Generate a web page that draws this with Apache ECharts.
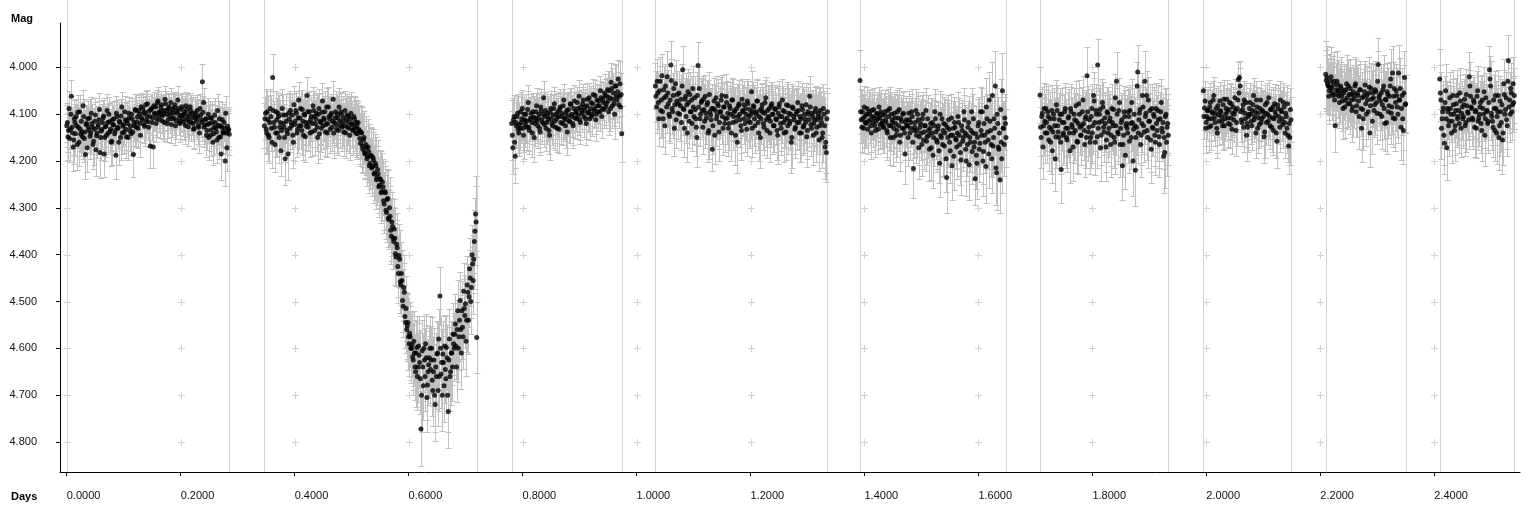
<!DOCTYPE html>
<html><head><meta charset="utf-8">
<script src="https://cdn.jsdelivr.net/npm/echarts@6/dist/echarts.min.js"></script>
<style>html,body{margin:0;padding:0;background:#fff}#c{width:1536px;height:512px}</style>
</head><body><div id="c"></div><script>
// ---- data ----
const xTicks = [0, 0.2, 0.4, 0.6, 0.8, 1.0, 1.2, 1.4, 1.6, 1.8, 2.0, 2.2, 2.4];
const yTicks = [4.0, 4.1, 4.2, 4.3, 4.4, 4.5, 4.6, 4.7, 4.8];
// observing runs (days): first and last time of each run
const segStart = [0, 0.3468, 0.7809, 1.0330, 1.3922, 1.7080, 1.9946, 2.2094, 2.4095];
const segEnd   = [0.2853, 0.7195, 0.9740, 1.3351, 1.6484, 1.9332, 2.1485, 2.3498, 2.5404];
// magnitudes in mmag relative to MAG_ZERO, errors in mmag
// "A" = samples on the run grid, "B" = samples falling between consecutive A samples
const MAG_ZERO = 4.0;
const seg1Mag = [125,148,88,132,62,140,155,118,105,165,128,95,143,138,82,152,186,120,110,135,
147,98,128,158,115,176,140,122,90,150,133,108,185,127,145,118,100,137,160,112,
123,142,188,105,130,115,150,85,126,138,112,148,120,98,135,142,110,186,125,92,
117,130,100,145,108,88,122,96,113,78,128,105,90,118,170,98,85,110,72,102,
95,80,115,100,68,92,120,88,104,75,110,98,86,125,94,70,108,116,90,103,
118,96,82,112,127,100,92,108,120,130,98,115,105,128,88,112,31,75,123,110,
135,100,120,145,108,160,128,118,138,92,150,125,185,112,140,130,98,172,135,143];
const seg1Err = [45,50,38,42,35,48,52,40,38,55,44,36,47,42,33,50,52,40,38,45,
48,35,42,50,40,55,46,40,35,48,42,38,50,44,46,40,36,44,50,38,
42,46,50,36,44,40,48,32,42,45,38,46,40,35,44,46,38,48,42,34,
40,42,36,46,38,32,40,35,38,30,42,36,33,40,45,35,32,38,30,36,
34,30,38,36,28,34,40,32,36,30,38,35,32,40,34,30,36,38,33,35,
38,34,30,36,40,35,33,36,38,42,34,38,35,40,32,36,38,30,40,36,
42,35,40,45,36,48,40,38,44,34,46,40,55,38,44,42,36,50,42,45];
const seg1MagB = [118,135,152,100,128,170,110,142,125,96,160,132,115,148,105,138,122,172,128,108,
140,120,165,132,102,146,128,112,182,136,118,104,150,126,92,140,116,132,158,122,
110,135,98,128,160,118,104,140,122,95,132,114,150,108,126,100,138,118,90,128,
106,92,120,84,112,98,126,80,104,116,94,168,88,108,82,100,120,76,96,112,
86,104,92,118,78,100,112,84,96,122,90,108,80,114,98,88,120,102,84,110,
100,124,90,106,116,84,118,98,132,104,110,92,124,140,102,118,96,128,112,145,
122,150,108,134,118,142,102,130,155,124,110,148,128,138,118,200,140,126,132];
const seg1ErrB = [42,46,50,38,44,52,40,48,44,36,50,46,40,48,38,46,42,52,44,40,
46,42,52,44,36,48,44,40,54,46,40,38,50,44,34,46,40,44,50,42,
38,44,36,42,48,40,36,46,42,34,44,38,48,36,42,35,44,40,32,42,
36,32,40,30,38,34,42,30,36,40,33,46,31,37,30,35,40,28,34,38,
30,36,32,40,28,34,38,30,33,40,32,36,28,38,34,30,40,35,30,37,
34,40,32,36,38,30,40,34,42,36,38,33,40,44,35,40,34,42,38,46,
40,48,36,44,40,46,36,42,50,42,38,48,42,46,40,54,46,42,44];
const seg2Mag = [125,98,140,112,150,88,130,22,118,165,95,140,105,128,178,88,120,150,102,135,
185,110,92,125,145,80,115,98,132,70,108,125,90,145,102,118,60,128,95,112,
138,82,105,120,98,150,88,115,130,72,108,95,122,140,85,110,102,128,68,118,
95,132,108,85,125,100,118,138,92,112,128,105,145,98,120,132,110,140,125,118,
135,162,140,175,150,185,172,190,180,205,188,212,198,225,210,235,228,252,240,265,
255,292,268,310,280,325,318,360,340,372,365,405,385,440,410,465,455,510,480,545,
560,545,590,575,600,618,585,640,610,660,595,630,772,605,680,625,590,705,650,620,
645,600,690,625,720,660,610,580,488,655,700,630,595,665,620,735,580,650,610,570,
600,548,640,520,575,498,610,555,478,530,585,465,540,430,500,400,455,372,313,577];
const seg2Err = [48,52,45,50,55,42,48,50,46,58,44,50,46,48,55,42,50,52,45,48,
55,46,42,50,52,40,46,44,50,38,46,50,42,52,45,48,40,50,44,46,
52,40,46,50,44,55,42,48,50,38,46,44,50,52,42,46,44,50,38,48,
44,50,46,40,48,45,50,52,42,46,50,44,52,45,48,50,46,52,48,46,
52,48,55,50,56,52,58,54,60,55,58,56,60,58,62,58,60,58,62,60,
60,62,58,64,60,62,64,60,62,58,65,62,60,64,62,66,64,65,62,66,
68,62,70,65,68,72,64,70,68,72,65,70,80,66,72,68,64,74,70,68,
72,66,75,68,78,70,66,64,62,72,76,68,66,74,70,78,64,72,68,66,
70,64,74,66,72,62,76,68,60,70,75,62,72,66,70,64,72,68,80,76];
const seg2MagB = [110,132,95,145,118,105,160,92,128,140,112,98,150,118,135,102,128,195,115,142,
98,130,118,102,160,122,92,140,108,125,88,135,115,100,148,126,95,118,140,105,
120,92,135,110,128,100,142,118,96,125,112,138,85,120,105,132,98,115,140,108,
122,100,135,115,95,128,108,125,140,102,118,130,110,122,135,105,128,118,142,132,
152,138,168,155,182,165,195,170,210,190,215,192,228,205,240,218,255,238,268,245,
285,265,305,282,322,300,348,330,365,345,398,378,425,402,458,440,498,470,532,515,
552,575,568,600,592,625,610,650,598,640,615,665,700,640,600,660,620,678,635,600,
625,668,650,700,640,612,690,660,600,630,612,680,645,598,700,625,660,610,640,590,
570,595,560,600,540,560,520,575,515,505,540,480,490,450,470,420,410,350,330];
const seg2ErrB = [46,50,44,55,48,46,56,42,50,52,46,44,54,48,50,44,50,56,46,52,
44,50,48,44,56,48,42,52,46,50,40,52,48,44,54,50,42,48,52,46,
50,42,52,46,50,44,54,48,42,50,46,52,40,48,44,52,42,46,54,44,
48,44,52,46,42,50,46,48,54,44,48,52,46,50,52,44,50,48,54,52,
54,56,55,58,56,60,58,60,58,62,60,60,62,62,62,62,64,62,64,62,
62,64,62,64,62,66,66,64,66,64,66,66,66,68,66,68,68,70,68,70,
70,72,68,74,70,74,70,76,68,74,70,76,78,72,68,74,70,76,72,68,
72,76,74,78,72,70,76,74,68,72,70,78,72,66,78,70,74,68,72,66,
66,70,64,72,66,68,64,70,62,62,68,60,64,60,66,62,64,72,76];
const seg3Mag = [120,172,105,190,125,98,140,130,118,88,145,112,100,128,75,135,108,118,95,150,
110,82,125,100,138,92,118,65,105,130,98,112,145,88,120,102,78,128,110,95,
132,85,105,120,70,112,98,138,90,115,80,105,125,72,98,110,88,62,118,92,
78,105,85,120,68,95,110,75,100,58,88,112,70,95,82,50,105,68,90,60,
78,48,95,65,32,82,55,100,40,70,25,62,85,142];
const seg3Err = [50,55,45,58,48,42,50,46,44,40,50,45,42,48,38,50,44,46,40,52,
45,38,48,42,50,40,46,36,44,48,40,45,52,38,46,42,36,48,44,40,
50,38,44,46,35,45,40,50,38,46,36,44,48,35,40,44,38,34,46,40,
36,44,38,46,34,40,45,36,42,32,40,46,35,42,38,32,45,36,40,34,
45,40,50,44,42,48,42,52,45,46,40,44,50,60];
const seg3MagB = [145,112,160,118,105,132,122,95,110,130,100,122,115,90,128,112,98,140,106,120,
95,115,108,130,85,112,100,122,92,118,105,135,96,110,125,88,115,100,130,105,
90,118,98,82,108,125,92,105,115,78,100,120,88,108,95,75,102,112,85,98,
70,92,110,82,98,65,88,105,78,92,60,100,82,72,95,65,88,75,55,85,
62,72,50,88,45,68,78,40,62,52,80,35,58];
const seg3ErrB = [52,46,55,48,44,50,48,42,46,50,42,48,46,40,50,46,42,52,44,48,
40,46,44,50,38,46,42,48,40,46,44,50,40,44,48,38,46,42,50,44,
38,46,40,36,44,48,38,42,46,34,40,46,36,42,40,34,42,44,36,40,
34,40,44,36,40,32,38,42,34,38,32,42,36,34,40,36,42,38,40,44,
40,44,42,48,44,42,48,46,44,42,50,48,46];
const seg4Mag = [40,85,55,110,30,70,95,48,125,62,20,78,105,-5,88,60,130,35,72,98,
55,82,118,5,90,68,105,140,75,58,95,120,85,65,110,150,-4,45,100,72,
128,90,62,108,75,135,95,112,175,88,145,65,102,82,118,95,60,130,85,110,
75,98,120,88,140,70,105,92,115,160,82,100,125,68,95,110,88,132,78,105,
118,52,95,85,125,100,72,140,92,110,80,120,98,65,135,105,88,115,78,100,
125,90,112,145,85,105,130,70,118,95,138,108,82,120,100,150,88,112,128,95,
75,118,105,140,90,125,110,80,135,100,62,122,98,145,112,88,128,105,155,92,
118,140,100,170,182,95];
const seg4Err = [50,55,48,58,52,46,54,50,60,48,55,50,56,52,54,48,60,50,46,55,
48,52,58,50,54,46,56,62,50,48,52,58,50,46,55,62,50,46,54,48,
58,52,46,55,48,60,50,54,46,50,62,46,52,48,56,50,44,58,50,54,
46,50,56,48,60,44,52,48,55,66,46,50,58,44,50,54,46,58,48,52,
55,44,50,48,58,52,44,60,50,54,46,56,50,44,58,52,48,55,46,50,
56,48,52,62,46,50,58,44,54,50,60,52,46,56,50,64,48,52,58,50,
46,56,50,62,48,58,52,46,60,50,44,56,50,64,54,48,58,52,66,50,
56,62,50,68,62,50];
const seg4MagB = [62,30,75,50,92,18,110,65,40,85,55,100,70,28,95,45,80,112,58,78,
100,68,40,88,130,62,80,52,115,95,70,45,105,90,128,60,85,110,75,92,
68,115,98,80,140,58,102,88,125,72,92,110,78,138,95,70,105,85,120,62,
108,130,82,100,70,118,95,145,88,105,78,112,135,92,80,120,100,72,115,90,
100,130,82,110,95,72,118,105,150,88,96,128,75,112,92,108,140,82,100,125,
88,110,135,98,78,120,105,92,140,112,80,125,98,115,160,85,105,132,100,118,
92,140,110,82,128,100,118,148,95,112,85,130,105,120,95,140,112,98,125,108,
150,88,125,160,110];
const seg4ErrB = [54,48,56,52,58,46,60,52,48,56,50,58,54,46,56,50,54,60,50,54,
58,52,48,56,62,50,54,48,58,56,52,48,58,54,62,50,56,58,52,56,
50,58,54,52,62,48,56,52,60,50,54,58,52,62,56,50,58,54,60,48,
56,60,50,56,48,58,54,64,52,56,50,58,62,54,50,60,56,48,58,52,
54,62,50,58,54,48,58,56,66,52,54,60,48,58,54,56,62,50,54,60,
50,56,62,54,48,58,56,52,62,58,48,60,54,58,66,50,56,62,54,58,
52,62,56,48,60,54,58,64,52,58,50,60,56,58,54,62,56,54,60,56,
64,52,60,66,56];
const seg5Mag = [28,112,95,130,105,120,88,115,100,125,92,118,108,135,98,110,85,122,102,115,
128,95,118,140,105,88,125,112,150,98,120,135,108,90,145,115,100,130,185,112,
125,98,140,118,105,216,128,92,135,112,148,120,165,100,138,125,158,110,145,130,
172,118,150,95,138,160,125,205,145,110,135,168,122,235,150,132,178,108,145,190,
128,155,140,118,165,198,135,150,112,175,145,128,208,160,95,140,170,238,188,150,
118,162,135,95,180,145,212,110,155,70,135,195,168,110,40,225,120,175,240,160,
50,130,108,150];
const seg5Err = [65,50,46,54,48,52,46,50,48,55,46,52,48,56,46,50,44,52,48,50,
54,46,52,58,48,46,54,50,60,46,52,56,48,46,58,50,48,56,65,50,
54,48,58,52,48,62,56,46,56,50,60,52,66,48,58,54,64,50,58,56,
68,52,60,48,58,64,54,72,60,52,58,66,54,75,62,56,70,52,60,72,
56,62,58,52,66,74,58,62,52,68,60,56,76,64,50,60,68,56,72,62,
54,66,58,50,70,60,78,52,62,60,58,74,66,52,75,80,56,70,72,64,
80,58,52,62];
const seg5MagB = [95,128,110,85,118,100,132,95,112,140,105,90,125,115,100,132,108,95,120,128,
102,112,135,92,125,150,100,118,130,108,145,95,125,160,110,130,98,140,118,125,
150,112,130,95,160,135,118,145,100,172,128,140,110,155,125,92,148,135,175,120,
140,188,125,110,155,132,178,100,150,165,120,140,195,128,112,160,145,210,130,118,
152,170,105,145,182,125,158,95,140,200,165,118,150,135,180,110,160,142,205,125,
175,95,145,200,120,160,85,138,185,115,165,60,150,130,215,100,170,140,90,195,
130,165,120];
const seg5ErrB = [48,52,50,46,52,48,54,46,50,56,48,46,52,50,48,54,50,46,52,54,
48,50,56,46,52,58,48,52,56,50,58,46,54,62,50,56,48,58,52,54,
60,50,56,48,62,58,52,60,48,66,56,58,50,62,56,48,60,58,68,54,
58,70,56,52,62,58,68,50,60,66,56,58,72,58,52,64,60,74,58,54,
62,68,52,60,70,56,64,50,60,74,66,56,62,58,70,54,64,60,76,58,
70,52,62,74,58,66,62,58,72,56,66,72,62,58,78,56,68,60,64,74,
58,66,56];
const seg6Mag = [59,150,98,125,115,88,140,105,128,160,92,138,110,195,80,125,150,100,218,118,
140,95,130,155,108,140,88,122,170,100,135,115,160,78,128,145,95,120,165,105,
18,138,112,150,88,125,72,160,100,-5,118,90,145,75,128,108,170,95,140,115,
165,88,125,150,65,30,138,92,165,118,210,145,105,125,130,95,158,120,75,200,
100,220,128,10,112,90,145,60,125,30,98,135,70,115,155,88,130,105,160,120,
92,148,110,75,138,190,182,100,128,145];
const seg6Err = [60,66,56,62,58,52,64,56,60,68,54,62,58,70,52,60,66,56,72,58,
64,54,60,68,56,62,52,58,72,56,62,58,68,50,60,64,54,58,70,56,
62,62,58,66,52,60,50,70,56,55,58,52,64,50,60,56,72,54,62,58,
70,52,60,66,50,62,62,54,70,58,74,64,56,60,62,54,68,58,50,74,
56,76,60,58,58,52,64,48,60,65,56,62,50,58,68,52,60,56,70,60,
54,66,58,50,62,78,76,56,60,64];
const seg6MagB = [128,105,170,88,140,118,95,155,110,132,178,100,125,148,92,138,112,160,100,145,
118,88,150,130,105,178,95,128,140,112,82,158,120,100,145,125,70,135,110,150,
95,128,160,105,140,60,118,92,148,130,100,172,115,85,138,120,155,98,130,108,
145,118,90,160,125,100,142,75,130,112,165,95,188,120,140,105,92,150,118,132,
125,150,40,140,98,165,120,85,138,105,60,150,115,92,175,128,100,145,88,135,
112,165,95,130,118,150,105,160,120];
const seg6ErrB = [62,58,68,54,64,60,56,66,58,62,70,56,60,66,54,62,58,68,56,64,
60,54,66,62,58,70,54,60,64,58,52,68,60,56,64,62,52,62,58,66,
56,62,68,58,64,50,60,56,66,62,56,70,60,54,64,60,68,56,62,58,
66,60,54,68,62,56,64,52,62,58,70,56,72,60,64,58,54,68,60,64,
62,68,52,64,56,70,60,54,64,58,52,66,60,56,72,62,58,66,54,64,
60,70,56,64,60,68,58,72,62];
const seg7Mag = [50,87,130,105,92,128,75,110,98,60,118,88,140,102,72,95,115,80,125,100,
68,108,90,122,78,98,112,65,135,88,26,22,95,118,80,70,110,145,128,100,
75,115,92,60,105,140,85,98,122,70,110,95,148,80,118,100,65,125,90,108,
135,78,102,158,88,115,70,95,122,85,140,105,78,168,150,112];
const seg7Err = [50,46,54,48,44,52,42,48,46,40,50,44,54,46,40,44,48,42,50,46,
40,46,44,50,42,46,48,40,54,44,38,36,44,50,42,40,48,56,52,46,
42,48,44,38,46,54,42,46,50,40,48,44,56,42,48,46,38,50,44,46,
52,42,46,58,44,48,40,44,50,42,54,46,40,60,58,48];
const seg7MagB = [105,72,118,92,110,85,125,95,70,108,98,130,82,115,92,105,125,68,110,88,
95,120,75,108,132,85,100,92,118,70,55,40,112,90,128,98,75,120,105,88,
100,125,80,112,95,70,130,108,88,118,92,105,138,98,75,115,105,90,128,85,
110,95,140,80,105,128,92,110,75,118,98,130,145,120,90];
const seg7ErrB = [48,42,50,46,48,44,52,46,40,48,46,54,42,50,44,48,52,40,48,44,
46,50,42,48,54,44,48,46,50,40,40,38,48,44,52,46,42,50,48,44,
46,52,42,48,46,40,54,48,44,50,44,48,56,46,42,50,48,44,52,44,
48,46,54,42,48,52,44,48,42,50,46,54,58,52,46];
const seg8Mag = [15,22,40,50,30,45,60,30,125,48,38,62,55,45,72,55,85,48,65,40,
78,58,92,52,68,35,82,60,105,48,130,90,62,38,100,70,55,140,45,115,
65,80,52,98,-6,60,72,105,48,88,68,118,58,82,40,98,12,62,110,50,
85,12,70,128,60,135,22,78];
const seg8Err = [72,68,60,62,58,56,60,62,55,58,54,60,62,56,64,58,66,54,62,56,
64,58,68,56,62,52,66,58,70,54,72,64,58,52,68,62,56,72,54,70,
60,64,56,66,56,58,62,70,54,64,60,68,56,62,52,66,58,60,68,56,
64,60,52,70,58,72,56,62];
const seg8MagB = [28,35,62,42,20,55,38,70,58,30,50,75,40,62,88,50,70,35,78,58,
45,70,85,60,40,95,55,72,48,88,65,110,52,78,60,95,42,82,68,55,
92,48,75,30,65,100,55,80,40,120,70,52,95,62,25,85,108,45,75,60,
100,70,45,88,110,55,80];
const seg8ErrB = [66,62,58,60,64,58,62,56,60,64,58,54,62,58,66,56,60,62,54,58,
62,56,64,58,62,54,60,56,62,58,56,66,60,54,62,58,64,56,60,62,
56,62,58,64,60,56,62,54,66,58,60,62,56,60,64,58,62,56,60,58,
62,58,64,56,66,60,58];
const seg9Mag = [25,70,110,87,162,50,172,95,115,88,140,60,100,125,78,110,92,55,130,85,
105,68,118,82,98,20,62,88,112,75,95,130,50,108,85,120,70,100,145,65,
92,115,5,40,105,128,88,60,140,95,150,72,118,155,35,100,65,125,-14,70,
45,95,35,60];
const seg9Err = [65,60,62,58,66,56,68,58,62,56,64,54,60,62,56,60,58,54,62,56,
60,54,62,56,58,52,56,58,62,54,58,64,52,60,56,62,54,58,66,52,
56,62,50,54,60,64,56,52,66,58,70,54,62,72,52,58,54,64,56,60,
54,60,56,58];
const seg9MagB = [55,130,95,145,75,110,88,125,65,100,115,80,135,92,60,105,120,72,98,110,
80,125,58,95,112,40,85,108,70,128,92,62,115,100,75,135,88,52,110,95,
120,75,25,98,115,70,135,88,105,60,125,95,80,140,58,90,112,30,85,100,
55,80,75];
const seg9ErrB = [60,66,58,64,56,62,58,64,54,60,62,56,66,58,54,60,64,56,58,62,
56,64,54,58,62,52,56,60,54,64,58,54,62,58,56,66,58,52,62,58,
62,56,50,58,62,54,66,58,60,54,64,58,56,68,52,58,62,50,56,60,
54,58,56];

// ---- build ----
const segMag  = [seg1Mag, seg2Mag, seg3Mag, seg4Mag, seg5Mag, seg6Mag, seg7Mag, seg8Mag, seg9Mag];
const segErr  = [seg1Err, seg2Err, seg3Err, seg4Err, seg5Err, seg6Err, seg7Err, seg8Err, seg9Err];
const segMagB = [seg1MagB, seg2MagB, seg3MagB, seg4MagB, seg5MagB, seg6MagB, seg7MagB, seg8MagB, seg9MagB];
const segErrB = [seg1ErrB, seg2ErrB, seg3ErrB, seg4ErrB, seg5ErrB, seg6ErrB, seg7ErrB, seg8ErrB, seg9ErrB];
const pts = [], bars = [], bounds = [], crosses = [];
function addPoint(t, v, e) {
  const m = MAG_ZERO + v / 1000, d = e / 1000;
  pts.push([t, m]);
  bars.push([t, m - d, m + d]);
}
segMag.forEach((arr, k) => {
  const n = arr.length, dt = (segEnd[k] - segStart[k]) / (n - 1);
  const nA = Math.min(n, segErr[k].length);
  for (let i = 0; i < nA; i++) addPoint(segStart[k] + i * dt, arr[i], segErr[k][i]);
  const nB = Math.min(n - 1, segMagB[k].length, segErrB[k].length);
  for (let i = 0; i < nB; i++) addPoint(segStart[k] + (i + 0.5) * dt, segMagB[k][i], segErrB[k][i]);
  bounds.push([segStart[k], MAG_ZERO], [segEnd[k], MAG_ZERO]);
});
xTicks.forEach(x => yTicks.forEach(y => crosses.push([x, y])));

const FONT = '"Liberation Sans", Arial, sans-serif';
const chart = echarts.init(document.getElementById('c'), null, {renderer: 'canvas'});
chart.setOption({
  animation: false,
  backgroundColor: '#fff',
  grid: {left: 60, right: 16, top: 23, bottom: 40},
  xAxis: {
    type: 'value', min: -0.0118, max: 2.5504,
    axisLine: {show: true, onZero: false, lineStyle: {color: '#000', width: 1}},
    axisTick: {show: true, customValues: xTicks, length: 4, lineStyle: {color: '#000'}},
    axisLabel: {customValues: xTicks, formatter: v => v.toFixed(4), align: 'left', margin: 18,
      fontSize: 11, color: '#111', fontFamily: FONT},
    splitLine: {show: false}
  },
  yAxis: {
    type: 'value', inverse: true, min: 3.9054, max: 4.864,
    axisLine: {show: true, onZero: false, lineStyle: {color: '#000', width: 1}},
    axisTick: {show: true, customValues: yTicks, length: 4, lineStyle: {color: '#000'}},
    axisLabel: {customValues: yTicks, formatter: v => v.toFixed(3), margin: 23,
      fontSize: 11, color: '#111', fontFamily: FONT},
    splitLine: {show: false}
  },
  graphic: [
    {type: 'text', style: {x: 11, y: 19, text: 'Mag', font: 'bold 11px ' + FONT, fill: '#000', textVerticalAlign: 'middle'}},
    {type: 'text', style: {x: 11, y: 497, text: 'Days', font: 'bold 11px ' + FONT, fill: '#000', textVerticalAlign: 'middle'}}
  ],
  series: [
    { // grid crosses
      type: 'custom', silent: true, z: 1, data: crosses, encode: {x: 0, y: 1},
      renderItem: (params, api) => {
        const p = api.coord([api.value(0), api.value(1)]);
        const cx = Math.round(p[0]) + 0.5, cy = Math.round(p[1]) + 0.5;
        const st = {stroke: '#d2d2d2', lineWidth: 1, fill: null};
        return {type: 'group', children: [
          {type: 'line', shape: {x1: cx - 3.5, y1: cy, x2: cx + 3.5, y2: cy}, style: st},
          {type: 'line', shape: {x1: cx, y1: cy - 3.5, x2: cx, y2: cy + 3.5}, style: st}
        ]};
      }
    },
    { // run boundaries
      type: 'custom', silent: true, z: 1, clip: false, data: bounds, encode: {x: 0, y: 1},
      renderItem: (params, api) => {
        const p = api.coord([api.value(0), api.value(1)]);
        const cs = params.coordSys;
        const x = Math.round(p[0]) + 0.5;
        return {type: 'line', shape: {x1: x, y1: 0, x2: x, y2: cs.y + cs.height},
          style: {stroke: '#d4d4d4', lineWidth: 1}};
      }
    },
    { // error bars
      type: 'custom', silent: true, z: 2, data: bars, encode: {x: 0, y: [1, 2]},
      renderItem: (params, api) => {
        const a = api.coord([api.value(0), api.value(1)]);
        const b = api.coord([api.value(0), api.value(2)]);
        const x = Math.round(a[0]) + 0.5;
        const y1 = Math.round(a[1]) + 0.5, y2 = Math.round(b[1]) + 0.5;
        const st = {stroke: '#c0c0c0', lineWidth: 1, fill: null};
        return {type: 'group', children: [
          {type: 'line', shape: {x1: x, y1: y1, x2: x, y2: y2}, style: st},
          {type: 'line', shape: {x1: x - 3, y1: y1, x2: x + 3, y2: y1}, style: st},
          {type: 'line', shape: {x1: x - 3, y1: y2, x2: x + 3, y2: y2}, style: st}
        ]};
      }
    },
    { // observations
      type: 'scatter', z: 3, data: pts, symbol: 'circle', symbolSize: 5,
      itemStyle: {color: '#000'}, silent: true
    }
  ]
});
</script></body></html>
